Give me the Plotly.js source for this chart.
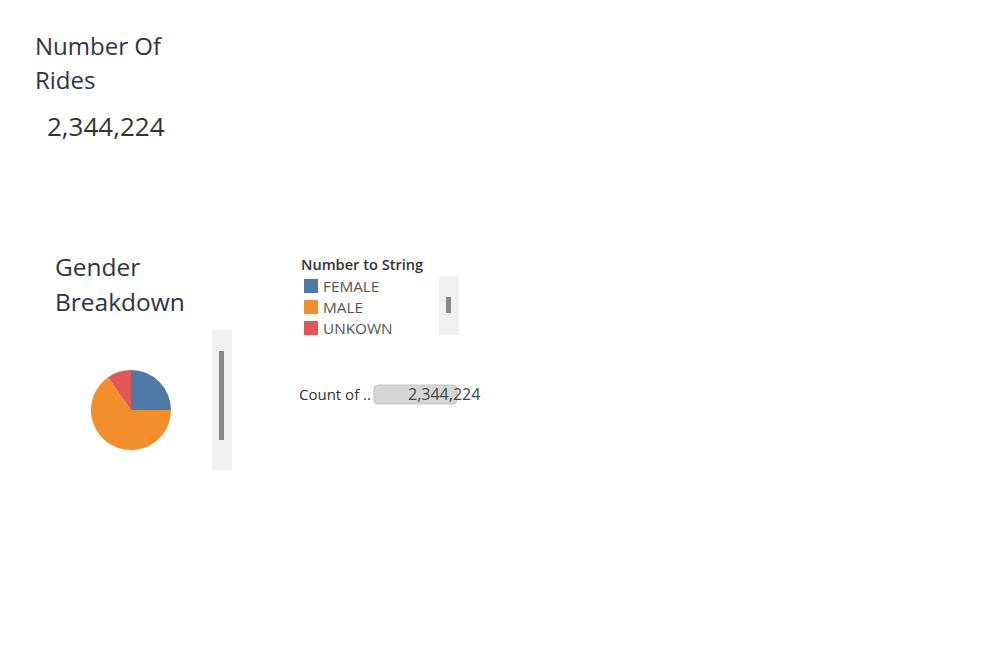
<!DOCTYPE html>
<html>
<head>
<meta charset="utf-8">
<script src="https://cdn.plot.ly/plotly-3.0.1.min.js"></script>
<style>html,body{margin:0;padding:0;background:#fff;}#chart{width:1002px;height:646px;}</style>
</head>
<body>
<div id="chart"></div>
<script>
// ---- data ----
const categories = ['FEMALE', 'MALE', 'UNKOWN'];
const rideCounts = [586000, 1530000, 228224];
const sliceColors = ['#4e79a7', '#f28e2b', '#e15759'];
const kpiTitleLines = ['Number Of', 'Rides'];
const pieTitleLines = ['Gender', 'Breakdown'];
const legendTitle = 'Number to String';
const countLabel = 'Count of ..';

// ---- helpers ----
const W = 1002, H = 646;
const px = x => x / W;
const py = y => 1 - y / H;
const total = rideCounts.reduce((a, b) => a + b, 0);
const totalText = total.toLocaleString('en-US');
const FONT = '"Open Sans", "Noto Sans", sans-serif';

function txt(text, x, y, size, color, extra) {
  return Object.assign({
    text: text, x: px(x), y: py(y), xref: 'paper', yref: 'paper',
    xanchor: 'left', yanchor: 'middle', showarrow: false,
    font: {family: FONT, size: size, color: color}
  }, extra || {});
}

const annotations = [];
const shapes = [];

// KPI title & value
annotations.push(txt(kpiTitleLines[0], 33, 45, 24, '#333340'));
annotations.push(txt(kpiTitleLines[1], 33, 80, 24, '#333340'));
annotations.push(txt(totalText, 45, 126, 26, '#333333'));

// Pie title
annotations.push(txt(pieTitleLines[0], 53, 266, 24.5, '#333340'));
annotations.push(txt(pieTitleLines[1], 53, 301, 24.5, '#333340'));

// Scrollbar next to pie
shapes.push({type: 'rect', xref: 'paper', yref: 'paper', x0: px(212), x1: px(232), y0: py(470), y1: py(330), fillcolor: '#f0f0f0', line: {width: 0}, layer: 'below'});
shapes.push({type: 'rect', xref: 'paper', yref: 'paper', x0: px(219), x1: px(224), y0: py(440), y1: py(351), fillcolor: '#888888', line: {width: 0}});

// Legend (built from categories / colours)
annotations.push(txt(legendTitle, 299, 264, 14.6, '#333333', {font: {family: FONT, size: 14.6, color: '#333333', weight: 600}}));
categories.forEach((c, i) => {
  const cy = 286 + i * 21;
  shapes.push({type: 'rect', xref: 'paper', yref: 'paper', x0: px(304), x1: px(318), y0: py(cy + 7), y1: py(cy - 7), fillcolor: sliceColors[i], line: {width: 0}});
  annotations.push(txt(c, 321, cy, 15.3, '#555555'));
});
// Legend scrollbar
shapes.push({type: 'rect', xref: 'paper', yref: 'paper', x0: px(439), x1: px(459), y0: py(335), y1: py(276), fillcolor: '#f0f0f0', line: {width: 0}, layer: 'below'});
shapes.push({type: 'rect', xref: 'paper', yref: 'paper', x0: px(446), x1: px(451), y0: py(313), y1: py(297), fillcolor: '#888888', line: {width: 0}});

// Count slider (rounded bar)
(function () {
  const x0 = 374, x1 = 457, y0 = 385, y1 = 404, r = 4;
  const X = v => px(v), Y = v => py(v);
  const path = 'M' + X(x0 + r) + ',' + Y(y0) +
    ' L' + X(x1 - r) + ',' + Y(y0) +
    ' Q' + X(x1) + ',' + Y(y0) + ' ' + X(x1) + ',' + Y(y0 + r) +
    ' L' + X(x1) + ',' + Y(y1 - r) +
    ' Q' + X(x1) + ',' + Y(y1) + ' ' + X(x1 - r) + ',' + Y(y1) +
    ' L' + X(x0 + r) + ',' + Y(y1) +
    ' Q' + X(x0) + ',' + Y(y1) + ' ' + X(x0) + ',' + Y(y1 - r) +
    ' L' + X(x0) + ',' + Y(y0 + r) +
    ' Q' + X(x0) + ',' + Y(y0) + ' ' + X(x0 + r) + ',' + Y(y0) + ' Z';
  shapes.push({type: 'path', xref: 'paper', yref: 'paper', path: path, fillcolor: '#d6d6d6', line: {color: '#c4c4c4', width: 1}, layer: 'below'});
})();
annotations.push(txt(countLabel, 297, 394, 15, '#333333'));
annotations.push(txt(totalText, 482, 394, 16, '#444444', {xanchor: 'right'}));

const trace = {
  type: 'pie',
  labels: categories,
  values: rideCounts,
  marker: {colors: sliceColors, line: {width: 0}},
  sort: false,
  direction: 'clockwise',
  rotation: 0,
  textinfo: 'none',
  hoverinfo: 'label+value+percent',
  showlegend: false,
  domain: {x: [px(91), px(171)], y: [py(450), py(370)]}
};

const layout = {
  width: W, height: H,
  margin: {l: 0, r: 0, t: 0, b: 0},
  paper_bgcolor: '#ffffff',
  plot_bgcolor: '#ffffff',
  showlegend: false,
  annotations: annotations,
  shapes: shapes
};

Plotly.newPlot('chart', [trace], layout, {displayModeBar: false});
</script>
</body>
</html>
